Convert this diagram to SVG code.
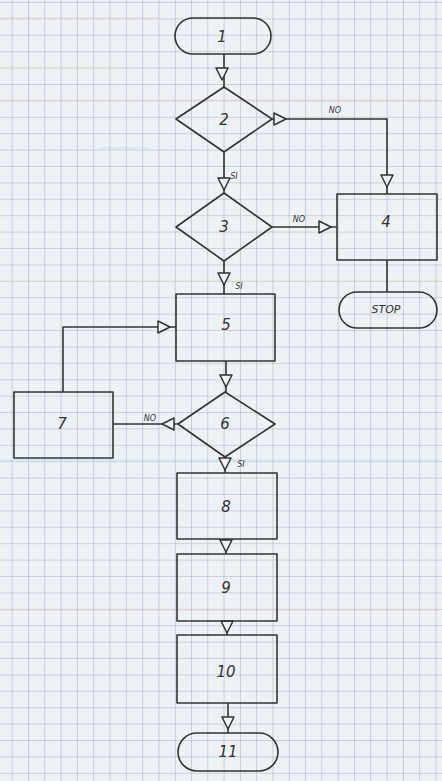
<svg xmlns="http://www.w3.org/2000/svg" width="442" height="781" viewBox="0 0 442 781">
<defs>
<pattern id="grid" patternUnits="userSpaceOnUse" width="16.3" height="16.4" x="11.7" y="2">
<rect width="16.3" height="16.4" fill="#eef2f7"/>
<path d="M0,0 V16.4 M0,0 H16.3" stroke="#a9aebd" stroke-width="1.1" fill="none"/>
</pattern>
<path id="tri" d="M-6,-6 L6,-6 L0,6 Z" fill="#eef2f7" stroke="#333" stroke-width="1.5" stroke-linejoin="round"/>
</defs>
<style>
.s{fill:none;stroke:#333;stroke-width:1.6;stroke-linejoin:round}
.t{font-family:"DejaVu Sans",sans-serif;font-style:italic;font-size:15px;fill:#333;text-anchor:middle;dominant-baseline:central}
.l{font-family:"DejaVu Sans",sans-serif;font-style:italic;font-size:8px;fill:#333;text-anchor:middle;dominant-baseline:central}
</style>
<rect width="442" height="781" fill="url(#grid)"/>
<g stroke-width="1" fill="none" opacity="0.5">
<path d="M0,18 H160" stroke="#f2b8c8"/>
<path d="M0,67 H120" stroke="#e6ee9a"/>
<path d="M100,148 H150" stroke="#8fe0e0"/>
<path d="M0,100 H440" stroke="#f2b8c8"/>
<path d="M0,280 H440" stroke="#e6ee9a"/>
<path d="M0,460 H440" stroke="#8fe0e0"/>
<path d="M0,610 H440" stroke="#f2b8c8"/>
</g>
<g id="connectors">
<path class="s" d="M224,54 V87"/>
<use href="#tri" x="222" y="74"/>
<path class="s" d="M272,119 H387 V194"/>
<use href="#tri" transform="translate(280,119) rotate(-90)"/>
<use href="#tri" x="387" y="181"/>
<text class="l" x="335" y="110">NO</text>
<path class="s" d="M224,152 V193"/>
<use href="#tri" x="224" y="184"/>
<text class="l" x="234" y="176">SI</text>
<path class="s" d="M272,227 H337"/>
<use href="#tri" transform="translate(325,227) rotate(-90)"/>
<text class="l" x="299" y="219">NO</text>
<path class="s" d="M387,260 V292"/>
<path class="s" d="M224,261 V294"/>
<use href="#tri" x="224" y="279"/>
<text class="l" x="239" y="286">SI</text>
<path class="s" d="M226,361 V392"/>
<use href="#tri" x="226" y="381"/>
<path class="s" d="M178,424 H113"/>
<use href="#tri" transform="translate(168,424) rotate(90)"/>
<text class="l" x="150" y="418">NO</text>
<path class="s" d="M63,392 V327 H176"/>
<use href="#tri" transform="translate(164,327) rotate(-90)"/>
<path class="s" d="M225,457 V473"/>
<use href="#tri" x="225" y="464"/>
<text class="l" x="241" y="464">SI</text>
<path class="s" d="M226,539 V554"/>
<use href="#tri" x="226" y="546"/>
<path class="s" d="M227,621 V635"/>
<use href="#tri" x="227" y="627"/>
<path class="s" d="M228,703 V733"/>
<use href="#tri" x="228" y="723"/>
</g>
<g id="n1"><rect class="s" x="175" y="18" width="96" height="36" rx="18"/><text class="t" x="222" y="37">1</text></g>
<g id="n2"><path class="s" d="M224,87 L272,119 L224,152 L176,119 Z"/><text class="t" x="224" y="120">2</text></g>
<g id="n3"><path class="s" d="M224,193 L272,227 L224,261 L176,227 Z"/><text class="t" x="224" y="227">3</text></g>
<g id="n4"><rect class="s" x="337" y="194" width="100" height="66"/><text class="t" x="386" y="222">4</text></g>
<g id="stop"><rect class="s" x="339" y="292" width="98" height="36" rx="18"/><text class="t" x="386" y="309" style="font-size:11px">STOP</text></g>
<g id="n5"><rect class="s" x="176" y="294" width="99" height="67"/><text class="t" x="226" y="325">5</text></g>
<g id="n6"><path class="s" d="M225,392 L275,424 L225,457 L178,424 Z"/><text class="t" x="225" y="424">6</text></g>
<g id="n7"><rect class="s" x="14" y="392" width="99" height="66"/><text class="t" x="62" y="424">7</text></g>
<g id="n8"><rect class="s" x="177" y="473" width="100" height="66"/><text class="t" x="226" y="507">8</text></g>
<g id="n9"><rect class="s" x="177" y="554" width="100" height="67"/><text class="t" x="226" y="588">9</text></g>
<g id="n10"><rect class="s" x="177" y="635" width="100" height="68"/><text class="t" x="226" y="672">10</text></g>
<g id="n11"><rect class="s" x="178" y="733" width="100" height="38" rx="19"/><text class="t" x="228" y="752">11</text></g>
</svg>
